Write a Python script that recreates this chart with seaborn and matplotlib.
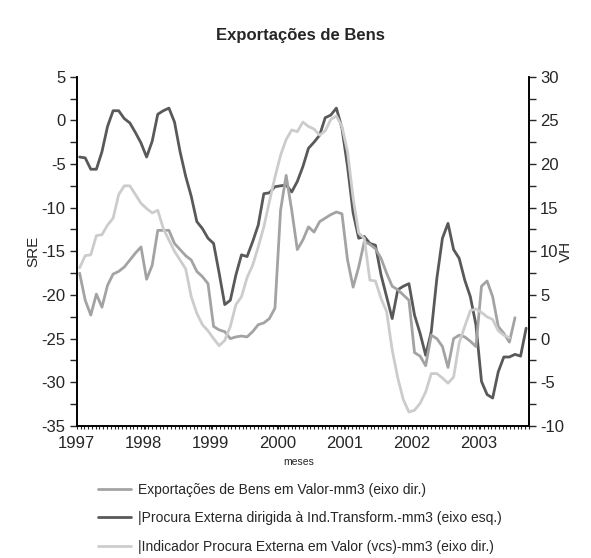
import numpy as np
import pandas as pd
import seaborn as sns
import matplotlib.pyplot as plt

# monthly series, Jan 1997 onwards (3-month moving averages)
procura_ind = [-4.2, -4.3, -5.6, -5.6, -3.6, -0.7, 1.1, 1.1, 0.2, -0.3,
               -1.4, -2.6, -4.2, -2.4, 0.7, 1.1, 1.4, -0.2, -3.6, -6.4,
               -8.7, -11.6, -12.4, -13.5, -14.1, -17.5, -21.1, -20.6, -17.7, -15.4,
               -15.6, -13.9, -12.0, -8.4, -8.3, -7.6, -7.5, -7.4, -8.2, -7.0,
               -5.3, -3.2, -2.5, -1.7, 0.3, 0.6, 1.4, -0.9, -5.3, -10.6,
               -13.5, -13.3, -14.1, -14.3, -17.7, -20.2, -22.7, -19.4, -19.0, -18.7,
               -22.3, -24.4, -26.9, -24.2, -18.1, -13.5, -11.8, -14.8, -15.8, -18.3,
               -20.2, -23.4, -29.9, -31.4, -31.8, -28.8, -27.1, -27.1, -26.8, -27.0,
               -23.8]
exportacoes = [7.5, 4.4, 2.7, 5.1, 3.6, 6.1, 7.4, 7.7, 8.2, 9.0,
               9.8, 10.5, 6.8, 8.4, 12.4, 12.4, 12.4, 10.9, 10.2, 9.5,
               9.0, 7.7, 7.1, 6.3, 1.4, 1.0, 0.8, 0.0, 0.2, 0.3,
               0.2, 0.8, 1.6, 1.8, 2.3, 3.5, 14.7, 18.7, 14.7, 10.2,
               11.3, 12.8, 12.2, 13.4, 13.8, 14.2, 14.5, 14.3, 9.0, 5.9,
               8.2, 11.1, 10.8, 10.3, 9.2, 7.5, 6.0, 5.6, 5.0, 4.4,
               -1.6, -2.0, -3.1, 0.4, 0.0, -0.9, -3.3, 0.0, 0.4, 0.2,
               -0.3, -0.9, 6.0, 6.6, 4.8, 1.4, 0.6, -0.4, 2.4]
indicador = [8.1, 9.5, 9.6, 11.8, 11.9, 13.0, 13.8, 16.5, 17.5, 17.5,
             16.5, 15.5, 14.9, 14.4, 14.7, 12.6, 11.3, 10.0, 9.0, 8.0,
             4.8, 2.9, 1.6, 0.9, 0.0, -0.8, -0.2, 1.4, 3.9, 4.8,
             7.0, 8.4, 10.5, 12.8, 15.7, 18.5, 21.0, 22.8, 23.9, 23.7,
             24.8, 24.3, 24.0, 23.3, 23.8, 25.1, 25.5, 24.3, 21.4, 16.1,
             12.1, 11.5, 6.7, 6.6, 4.6, 3.1, -1.3, -4.5, -7.0, -8.4,
             -8.2, -7.4, -6.1, -4.0, -4.0, -4.5, -5.1, -4.4, -0.5, 1.4,
             3.2, 3.4, 3.0, 2.5, 2.2, 0.9, 0.4, 0.1]

labels = ["Exportações de Bens em Valor-mm3 (eixo dir.)",
          "|Procura Externa dirigida à Ind.Transform.-mm3 (eixo esq.)",
          "|Indicador Procura Externa em Valor (vcs)-mm3 (eixo dir.)"]
years = list(range(1997, 2004))


def month_pos(n):
    # points sit in the middle of each monthly slot
    return 1997 + (np.arange(n) + 0.5) / 12


df_left = pd.DataFrame({"t": month_pos(len(procura_ind)), "v": procura_ind})
df_exp = pd.DataFrame({"t": month_pos(len(exportacoes)), "v": exportacoes})
df_ind = pd.DataFrame({"t": month_pos(len(indicador)), "v": indicador})

sns.set_style("ticks")
plt.rcParams['font.family'] = ['Liberation Sans', 'DejaVu Sans']

fig = plt.figure(figsize=(5.91, 5.58), dpi=100)
ax = fig.add_axes([0.130, 0.2366, 0.765, 0.626])
ax2 = ax.twinx()

c_dark, c_mid, c_light = "#595959", "#a3a3a3", "#cccccc"
lw = 2.0

sns.lineplot(data=df_left, x="t", y="v", ax=ax, color=c_dark, linewidth=lw, legend=False)
sns.lineplot(data=df_exp, x="t", y="v", ax=ax2, color=c_mid, linewidth=lw, legend=False)
sns.lineplot(data=df_ind, x="t", y="v", ax=ax2, color=c_light, linewidth=lw, legend=False)

xmax = 1997 + 81 / 12
ax.set_xlim(1997, xmax)
ax.set_ylim(-35, 5)
ax2.set_ylim(-10, 30)

ax.set_yticks(np.arange(-35, 5.1, 2.5))
ax.set_yticklabels([f"{v:g}" if v % 5 == 0 else "" for v in np.arange(-35, 5.1, 2.5)])
ax2.set_yticks(np.arange(-10, 30.1, 2.5))
ax2.set_yticklabels([f"{v:g}" if v % 5 == 0 else "" for v in np.arange(-10, 30.1, 2.5)])

ax.set_xticks(years)
ax.set_xticklabels([str(y) for y in years])
ax.set_xticks(np.linspace(1997, xmax, 121), minor=True)

for a in (ax, ax2):
    a.spines["top"].set_visible(False)
    for s in a.spines.values():
        s.set_linewidth(1.2)
        s.set_color("black")
    a.grid(False)

ax.tick_params(axis="y", direction="out", length=5, width=1.0, labelsize=12, pad=3)
ax2.tick_params(axis="y", direction="out", length=5, width=1.0, labelsize=12, pad=3)
ax.tick_params(axis="x", which="major", direction="out", length=2.5, width=0.8, labelsize=12, pad=5)
ax.tick_params(axis="x", which="minor", direction="out", length=2.5, width=0.8)

ax.set_ylabel("SRE", fontsize=11)
ax2.set_ylabel("VH", fontsize=11)
ax.yaxis.set_label_coords(-0.08, 0.5)
ax2.yaxis.set_label_coords(1.066, 0.5)
ax.set_xlabel("meses", fontsize=7.5)
ax.xaxis.set_label_coords(0.49, -0.09)

fig.text(0.508, 0.937, "Exportações de Bens", ha="center", va="center",
         fontsize=12, fontweight="bold")

handles = [plt.Line2D([], [], color=c, linewidth=lw) for c in (c_mid, c_dark, c_light)]
fig.legend(handles, labels, loc="upper left", bbox_to_anchor=(0.165, 0.135),
           frameon=False, fontsize=10, handlelength=2.4, handletextpad=0.5,
           labelspacing=1.05, borderaxespad=0, borderpad=0)

fig.savefig("out.png", dpi=100)
